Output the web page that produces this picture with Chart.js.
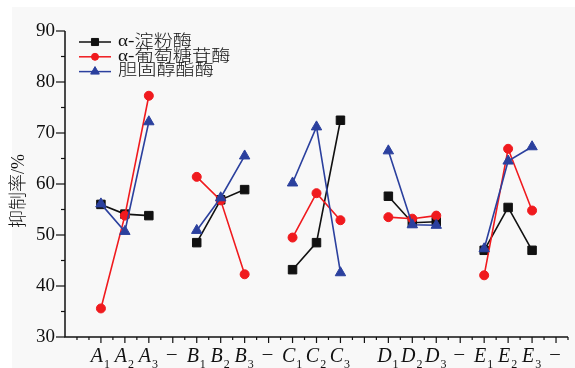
<!DOCTYPE html>
<html lang="zh">
<head>
  <meta charset="UTF-8">
  <title>抑制率</title>
  <script src="https://cdn.jsdelivr.net/npm/chart.js"></script>
  <style>
    html, body { margin: 0; padding: 0; background: #fff; }
    #wrap { position: relative; width: 575px; height: 368px; }
  </style>
</head>
<body>
  <div id="wrap"><canvas id="inhibitChart"></canvas></div>

  <script>
    // x categories (blank = spacer, '–' = separator tick)
    const categories = ['', 'A1', 'A2', 'A3', '–', 'B1', 'B2', 'B3', '–', 'C1', 'C2', 'C3', '', 'D1', 'D2', 'D3', '–', 'E1', 'E2', 'E3', '–'];
    const yTicks = [30, 40, 50, 60, 70, 80, 90];

    const alphaAmylase = [null, 56.0, 54.1, 53.8, null, 48.5, 56.9, 58.9, null, 43.2, 48.5, 72.5, null, 57.6, 52.4, 52.6, null, 47.0, 55.4, 47.0, null];
    const alphaGlucosidase = [null, 35.6, 53.8, 77.3, null, 61.4, 56.8, 42.3, null, 49.5, 58.2, 52.9, null, 53.5, 53.2, 53.8, null, 42.1, 66.9, 54.8, null];
    const cholesterolEsterase = [null, 56.1, 50.7, 72.2, null, 50.9, 57.3, 65.5, null, 60.2, 71.2, 42.6, null, 66.5, 52.0, 51.9, null, 47.3, 64.5, 67.3, null];

    const seriesNames = ['α-淀粉酶', 'α-葡萄糖苷酶', '胆固醇酯酶'];

    const BLACK = '#111111';
    const RED = '#f01a1e';
    const BLUE = '#2b409e';

    const serif = '"Liberation Serif", "Noto Sans CJK SC", serif';

    // axes, ticks, labels and legend drawn by hand (origin-style)
    const decorPlugin = {
      id: 'decor',
      beforeDraw(chart) {
        const ctx = chart.ctx;
        ctx.save();
        ctx.fillStyle = '#ffffff';
        ctx.fillRect(0, 0, chart.width, chart.height);
        ctx.fillStyle = '#f8f8f8';
        ctx.fillRect(12, 7, chart.width - 12, chart.height - 7);
        ctx.restore();
      },
      afterDraw(chart) {
        const ctx = chart.ctx;
        const area = chart.chartArea;
        const x = chart.scales.x;
        const y = chart.scales.y;
        ctx.save();
        ctx.strokeStyle = '#111';
        ctx.fillStyle = '#111';
        ctx.lineWidth = 1.5;

        // axis lines
        ctx.beginPath();
        ctx.moveTo(area.left, area.top);
        ctx.lineTo(area.left, area.bottom);
        ctx.lineTo(area.right, area.bottom);
        ctx.stroke();

        // y ticks
        ctx.lineWidth = 1.2;
        for (let v = 30; v <= 90; v += 5) {
          const py = y.getPixelForValue(v);
          const len = v % 10 === 0 ? 9 : 4;
          ctx.beginPath();
          ctx.moveTo(area.left - len, py);
          ctx.lineTo(area.left, py);
          ctx.stroke();
        }
        ctx.font = '19px ' + serif;
        ctx.textAlign = 'right';
        ctx.textBaseline = 'middle';
        yTicks.forEach(v => {
          ctx.fillText(String(v), area.left - 10, y.getPixelForValue(v) + 0.5);
        });

        // x ticks: major at categories, minor half way
        const step = x.getPixelForValue(1) - x.getPixelForValue(0);
        categories.forEach((c, i) => {
          const px = x.getPixelForValue(i);
          const len = i === 0 ? 3 : 6;
          ctx.beginPath();
          ctx.moveTo(px, area.bottom);
          ctx.lineTo(px, area.bottom + len);
          ctx.moveTo(px + step / 2, area.bottom);
          ctx.lineTo(px + step / 2, area.bottom + 3);
          ctx.stroke();
        });

        // x labels with subscripts
        categories.forEach((c, i) => {
          if (!c) return;
          const px = x.getPixelForValue(i);
          if (c === '–') {
            ctx.font = '19px ' + serif;
            ctx.textAlign = 'center';
            ctx.textBaseline = 'alphabetic';
            ctx.fillText('–', px - 1, 359);
            return;
          }
          const letter = c[0];
          const sub = c.slice(1);
          ctx.font = 'italic 20px ' + serif;
          const wL = ctx.measureText(letter).width;
          ctx.font = '12px ' + serif;
          const wS = ctx.measureText(sub).width;
          const start = px - (wL + wS) / 2 - 1;
          ctx.textAlign = 'left';
          ctx.textBaseline = 'alphabetic';
          ctx.font = 'italic 20px ' + serif;
          ctx.fillText(letter, start, 362);
          ctx.font = '12px ' + serif;
          ctx.fillText(sub, start + wL + 1, 368);
        });

        // y title
        ctx.save();
        ctx.translate(19, 191);
        ctx.rotate(-Math.PI / 2);
        ctx.font = '300 18px ' + serif;
        ctx.textAlign = 'center';
        ctx.textBaseline = 'middle';
        ctx.fillText('抑制率/%', 0, 0);
        ctx.restore();

        // legend
        chart.data.datasets.forEach((ds, i) => {
          const ly = 42 + i * 14.8;
          ctx.strokeStyle = ds.borderColor;
          ctx.fillStyle = ds.borderColor;
          ctx.lineWidth = 1.5;
          ctx.beginPath();
          ctx.moveTo(79, ly);
          ctx.lineTo(111, ly);
          ctx.stroke();
          ctx.lineWidth = 1;
          Chart.helpers.drawPoint(ctx, {
            pointStyle: ds.pointStyle,
            radius: ds.pointRadius - 1,
            rotation: 0,
            borderWidth: 1
          }, 95, ly);
          ctx.save();
          ctx.fillStyle = '#111';
          ctx.font = '300 16px ' + serif;
          ctx.textAlign = 'left';
          ctx.textBaseline = 'middle';
          ctx.translate(118, ly - 0.5);
          ctx.scale(1.2, 1);
          ctx.fillText(seriesNames[i], 0, 0);
          ctx.restore();
        });

        ctx.restore();
      }
    };

    function lineSet(label, data, color, style, radius, order) {
      return {
        label: label,
        data: data,
        borderColor: color,
        backgroundColor: color,
        pointBackgroundColor: color,
        pointBorderColor: color,
        pointStyle: style,
        pointRadius: radius,
        pointBorderWidth: 1,
        borderWidth: 1.6,
        tension: 0,
        spanGaps: false,
        order: order
      };
    }

    new Chart(document.getElementById('inhibitChart').getContext('2d'), {
      type: 'line',
      data: {
        labels: categories,
        datasets: [
          lineSet(seriesNames[0], alphaAmylase, BLACK, 'rect', 6, 3),
          lineSet(seriesNames[1], alphaGlucosidase, RED, 'circle', 4.5, 2),
          lineSet(seriesNames[2], cholesterolEsterase, BLUE, 'triangle', 6, 1)
        ]
      },
      options: {
        responsive: true,
        maintainAspectRatio: false,
        animation: false,
        layout: { padding: { left: 65, top: 31, right: 0, bottom: 31 } },
        plugins: { legend: { display: false }, tooltip: { enabled: false } },
        scales: {
          x: { type: 'category', offset: true, display: false },
          y: { min: 30, max: 90, display: false }
        }
      },
      plugins: [decorPlugin]
    });
  </script>
</body>
</html>
